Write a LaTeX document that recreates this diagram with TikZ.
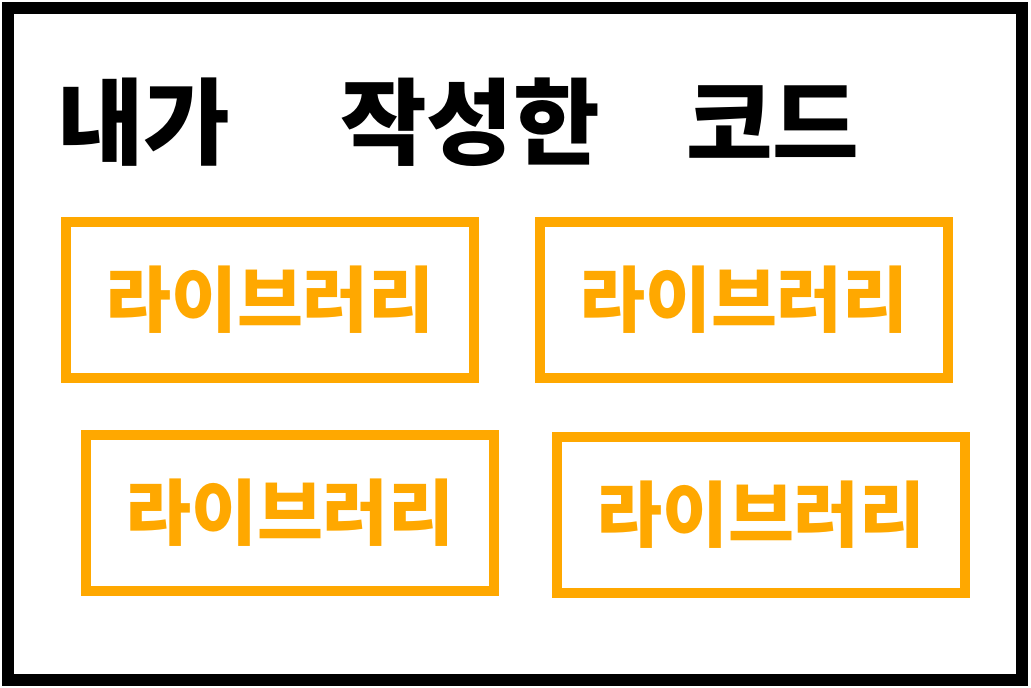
\documentclass[tikz,border=0pt]{standalone}
\usepackage{fontspec}
\newfontfamily\cjk{Noto Sans CJK KR}
\definecolor{libor}{RGB}{255,168,0}
\tikzset{
  libbox/.style={draw=libor, line width=10*0.025cm, minimum width=408*0.025cm, minimum height=156*0.025cm, inner sep=0pt, text=libor, font=\cjk\bfseries\fontsize{51}{56}\selectfont},
  title/.style={font=\cjk\bfseries\fontsize{67}{72}\selectfont, text=black, anchor=west, inner sep=0pt}
}
\begin{document}
\begin{tikzpicture}[x=0.025cm, y=-0.025cm]
			\useasboundingbox (0,0) rectangle (1031,688);
			\draw[line width=12*0.025cm] (8,8) rectangle (1022,680);
			\node[title] (head1) at (57,122) {내가};
			\node[title] (head2) at (340,122) {작성한};
			\node[title] (head3) at (686,122) {코드};
			\node[libbox] (lib1) at (270,300) {라이브러리};
			\node[libbox] (lib2) at (744,300) {라이브러리};
			\node[libbox] (lib3) at (290,513) {라이브러리};
			\node[libbox] (lib4) at (761,515) {라이브러리};
		\end{tikzpicture}
\end{document}
